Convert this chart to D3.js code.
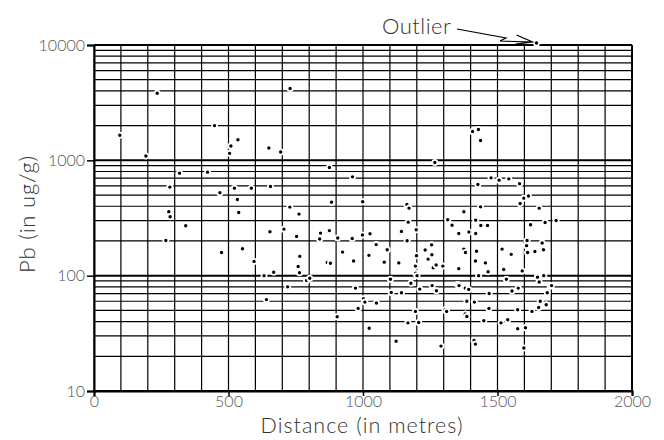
<!DOCTYPE html>
<html>
<head>
<meta charset="utf-8">
<script src="https://cdn.jsdelivr.net/npm/d3@7"></script>
<style>
  body { margin: 0; background: #fff; }
  text { font-family: "Lato", "Open Sans", sans-serif; font-weight: 300; }
</style>
</head>
<body>
<svg width="664" height="440"></svg>
<script>
// distance (m) and Pb (ug/g)
var distance = [96,193,235,448,509,504,535,650,694,729,875,318,422,282,468,522,585,656,533,538,
  728,762,278,283,883,1645,1407,1429,1437,1267,961,1476,1506,1542,1582,1427,1598,1615,1584,1655,
  1437,1375,999,1163,1171,341,654,267,474,552,595,632,668,641,720,706,753,765,759,764,
  790,802,839,842,870,875,867,879,1168,1315,1331,1198,1138,1143,906,960,998,1026,1049,1090,
  1164,924,1022,1079,1133,965,1199,1231,1255,1242,1256,1267,1261,1272,1297,1195,1196,1201,1102,1718,
  1677,1623,1419,1438,1463,1356,1394,1419,1610,1666,1608,1671,1612,1639,1375,1381,1422,1517,1551,1418,
  1455,1356,1523,1592,1465,1430,1533,1650,1649,1672,1178,1211,1257,1273,1105,1143,972,1002,1007,1050,
  982,904,1023,1123,1195,1167,1207,1305,1311,1290,1352,1357,1380,1393,1386,1414,1468,1469,1380,1386,
  1449,1413,1418,1554,1577,1575,1513,1538,1575,1604,1598,1655,1696,1701,1685,1659,1681,1653,1628];
var lead = [1650,1090,3820,2000,1330,1150,1510,1280,1180,4190,867,774,790,586,523,574,574,593,457,353,
  393,342,358,324,434,10400,1780,1850,1485,957,719,705,673,691,626,617,470,490,422,385,
  395,358,437,414,385,271,240,202,159,171,133,100,107,62,80,253,219,147,120,106,
  91,95,208,234,242,246,130,128,291,305,274,250,235,242,212,210,225,231,186,168,
  201,160,150,131,129,134,149,167,185,139,152,121,117,124,121,121,105,100,93,301,
  289,276,303,272,272,232,239,232,202,192,182,168,159,162,170,159,163,170,153,134,
  129,115,113,110,108,100,93,100,97,100,86,76.5,82,74,71.5,71,78,63,59,58,
  52,44,35,27,49,39,39.3,50.6,49,24.5,84,82,78,76,60,59,52,70,46.5,44.3,
  40.7,27.4,25.5,73.6,78,50.6,39,41.5,34.7,35.4,23.6,88,81,82,71,60,56,53,49];

var xTicks = [0,500,1000,1500,2000];
var yTicks = [10,100,1000,10000];

var svg = d3.select("svg");

var x = d3.scaleLinear().domain([0,2000]).range([94,632]);
var y = d3.scaleLog().domain([10,10000]).range([391,45]);

// grid
var vlines = d3.range(0,2001,100);
var hlines = [];
[10,100,1000].forEach(function(dec){
  for (var k=1;k<10;k++) hlines.push(dec*k);
});
hlines.push(10000);

svg.append("g").selectAll("line")
  .data(vlines).enter().append("line")
    .attr("x1", function(d){return x(d);})
    .attr("x2", function(d){return x(d);})
    .attr("y1", y(10000)).attr("y2", y(10))
    .attr("stroke", "#000").attr("stroke-width", 1.2);

svg.append("g").selectAll("line")
  .data(hlines).enter().append("line")
    .attr("x1", x(0)).attr("x2", x(2000))
    .attr("y1", function(d){return y(d);})
    .attr("y2", function(d){return y(d);})
    .attr("stroke", "#000")
    .attr("stroke-width", function(d){ return yTicks.indexOf(d)>=0 ? 2 : 1.2; });

// axes
var yAxis = svg.append("g")
  .attr("transform", "translate(" + x(0) + ",0)")
  .call(d3.axisLeft(y).tickValues(yTicks).tickFormat(d3.format("d")).tickSize(7).tickPadding(2));
var xAxis = svg.append("g")
  .attr("transform", "translate(0," + y(10) + ")")
  .call(d3.axisBottom(x).tickValues(xTicks).tickFormat(d3.format("d")).tickSize(5).tickPadding(0));

[xAxis, yAxis].forEach(function(a){
  a.select(".domain").attr("stroke", "#000").attr("stroke-width", 2);
  a.selectAll(".tick line").attr("stroke", "#000").attr("stroke-width", 1.5);
  a.selectAll(".tick text")
    .attr("fill", "#555")
    .style("font-size", "16px")
    .style("font-family", "Lato, 'Open Sans', sans-serif")
    .style("font-weight", 300);
});

// right border
svg.append("line")
  .attr("x1", x(2000)).attr("x2", x(2000))
  .attr("y1", y(10000)).attr("y2", y(10))
  .attr("stroke", "#000").attr("stroke-width", 2);

// points with white halo
svg.append("g").selectAll("circle")
  .data(distance).enter().append("circle")
    .attr("cx", function(d){return x(d);})
    .attr("cy", function(d,i){return y(lead[i]);})
    .attr("r", 2.6)
    .attr("fill", "#000")
    .attr("stroke", "#fff")
    .attr("stroke-width", 1.8);

// titles
svg.append("text")
  .attr("x", 362).attr("y", 433)
  .attr("text-anchor", "middle")
  .attr("fill", "#333")
  .style("font-size", "21.5px")
  .style("letter-spacing", "1px")
  .text("Distance (in metres)");

svg.append("text")
  .attr("transform", "translate(35,214) rotate(-90)")
  .attr("text-anchor", "middle")
  .attr("fill", "#333")
  .style("font-size", "22px")
  .style("letter-spacing", "0.8px")
  .text("Pb (in ug/g)");

// outlier note
svg.append("text")
  .attr("x", 382).attr("y", 34)
  .attr("fill", "#333")
  .style("font-size", "22px")
  .style("letter-spacing", "0.5px")
  .text("Outlier");

var tip = [x(1645)-4, y(10400)-1];
svg.append("path")
  .attr("d", "M457,29 L506,38 L500,41 L" + tip[0] + "," + tip[1] +
             " M" + (tip[0]-16) + "," + (tip[1]-7) + " L" + tip[0] + "," + tip[1] +
             " L" + (tip[0]-17) + "," + (tip[1]+2))
  .attr("fill", "none")
  .attr("stroke", "#000")
  .attr("stroke-width", 1.2);
</script>
</body>
</html>
